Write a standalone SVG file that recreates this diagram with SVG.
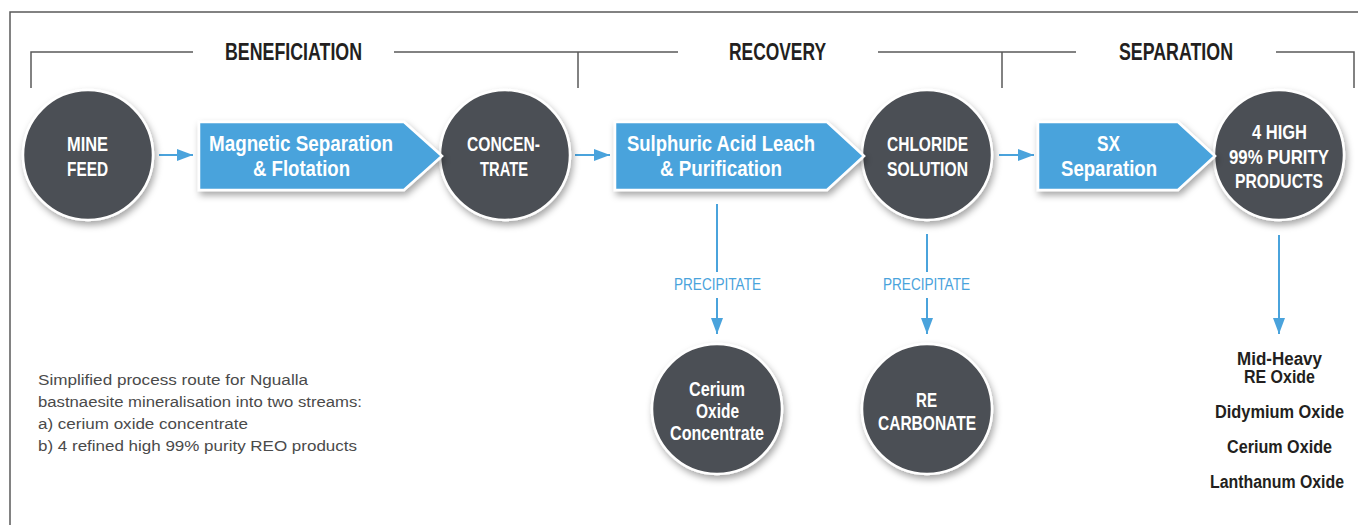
<svg xmlns="http://www.w3.org/2000/svg" width="1358" height="525" viewBox="0 0 1358 525">
  <defs>
    <filter id="shadow" x="-20%" y="-20%" width="150%" height="150%">
      <feDropShadow dx="2" dy="4" stdDeviation="3.5" flood-color="#000" flood-opacity="0.35"/>
    </filter>
    <marker id="arrow" markerUnits="userSpaceOnUse" markerWidth="16" markerHeight="12" refX="16" refY="6" orient="auto">
      <path d="M0,0 L16,6 L0,12 Z" fill="#4aa3dc"/>
    </marker>
    <style>
      .frame { fill: none; stroke: #5a5a5a; stroke-width: 1.5; }
      .node { fill: #4c4f54; stroke: #ffffff; stroke-width: 2.5; filter: url(#shadow); }
      .step { fill: #4aa3dc; stroke: #ffffff; stroke-width: 2.5; filter: url(#shadow); }
      .flow { fill: none; stroke: #4aa3dc; stroke-width: 2; }
      .head { font-family: "Liberation Sans", Arial, sans-serif; font-weight: bold; font-size: 23px; fill: #231f20; }
      .ctext { font-family: "Liberation Sans", Arial, sans-serif; font-weight: bold; font-size: 20px; fill: #ffffff; }
      .btext { font-family: "Liberation Sans", Arial, sans-serif; font-weight: bold; font-size: 22px; fill: #ffffff; }
      .plabel { font-family: "Liberation Sans", Arial, sans-serif; font-size: 17px; fill: #4aa3dc; }
      .prod { font-family: "Liberation Sans", Arial, sans-serif; font-weight: bold; font-size: 18px; fill: #231f20; }
      .note { font-family: "Liberation Sans", Arial, sans-serif; font-size: 15.5px; fill: #4a4a4a; }
    </style>
  </defs>

  <rect width="1358" height="525" fill="#ffffff"/>

  <!-- outer frame -->
  <path class="frame" d="M10,525 V12 H1358"/>

  <!-- stage brackets -->
  <g id="stages">
    <path class="frame" d="M31,88 V52 H193 M394,52 H678 M878,52 H1076 M1276,52 H1354 V88 M578,52 V88 M1002,52 V88"/>
    <text class="head" x="225" y="60" textLength="137" lengthAdjust="spacingAndGlyphs">BENEFICIATION</text>
    <text class="head" x="729" y="60" textLength="97" lengthAdjust="spacingAndGlyphs">RECOVERY</text>
    <text class="head" x="1119" y="60" textLength="114" lengthAdjust="spacingAndGlyphs">SEPARATION</text>
  </g>

  <!-- connectors -->
  <g id="connectors">
    <path class="flow" d="M159,155 H193" marker-end="url(#arrow)"/>
    <path class="flow" d="M575,155 H610" marker-end="url(#arrow)"/>
    <path class="flow" d="M999,155 H1034" marker-end="url(#arrow)"/>
    <path class="flow" d="M717,204 V272"/>
    <path class="flow" d="M717,298 V334" marker-end="url(#arrow)"/>
    <path class="flow" d="M927,234 V272"/>
    <path class="flow" d="M927,298 V334" marker-end="url(#arrow)"/>
    <path class="flow" d="M1279,235 V334" marker-end="url(#arrow)"/>
    <text class="plabel" x="674" y="290" textLength="87" lengthAdjust="spacingAndGlyphs">PRECIPITATE</text>
    <text class="plabel" x="883" y="290" textLength="87" lengthAdjust="spacingAndGlyphs">PRECIPITATE</text>
  </g>

  <!-- circular nodes -->
  <g id="mine-feed">
    <circle class="node" cx="88" cy="155" r="65"/>
    <text class="ctext" x="67" y="151" textLength="41" lengthAdjust="spacingAndGlyphs">MINE</text>
    <text class="ctext" x="67" y="176" textLength="41" lengthAdjust="spacingAndGlyphs">FEED</text>
  </g>
  <g id="concentrate">
    <circle class="node" cx="505" cy="155" r="65"/>
    <text class="ctext" x="467" y="151" textLength="73" lengthAdjust="spacingAndGlyphs">CONCEN-</text>
    <text class="ctext" x="480" y="176" textLength="48" lengthAdjust="spacingAndGlyphs">TRATE</text>
  </g>
  <g id="chloride-solution">
    <circle class="node" cx="927" cy="155" r="65"/>
    <text class="ctext" x="887" y="151" textLength="81" lengthAdjust="spacingAndGlyphs">CHLORIDE</text>
    <text class="ctext" x="887" y="176" textLength="81" lengthAdjust="spacingAndGlyphs">SOLUTION</text>
  </g>
  <g id="purity-products">
    <circle class="node" cx="1279" cy="155" r="65"/>
    <text class="ctext" x="1252" y="139" textLength="55" lengthAdjust="spacingAndGlyphs">4 HIGH</text>
    <text class="ctext" x="1229" y="164" textLength="100" lengthAdjust="spacingAndGlyphs">99% PURITY</text>
    <text class="ctext" x="1235" y="188" textLength="88" lengthAdjust="spacingAndGlyphs">PRODUCTS</text>
  </g>
  <g id="cerium-oxide-concentrate">
    <circle class="node" cx="717" cy="409" r="65"/>
    <text class="ctext" x="689" y="396" textLength="56" lengthAdjust="spacingAndGlyphs">Cerium</text>
    <text class="ctext" x="696" y="418" textLength="43" lengthAdjust="spacingAndGlyphs">Oxide</text>
    <text class="ctext" x="670" y="440" textLength="94" lengthAdjust="spacingAndGlyphs">Concentrate</text>
  </g>
  <g id="re-carbonate">
    <circle class="node" cx="927" cy="409" r="65"/>
    <text class="ctext" x="916" y="407" textLength="21" lengthAdjust="spacingAndGlyphs">RE</text>
    <text class="ctext" x="878" y="430" textLength="98" lengthAdjust="spacingAndGlyphs">CARBONATE</text>
  </g>

  <!-- process steps -->
  <g id="magnetic-separation">
    <path class="step" d="M199,122 H404 L442,156 L404,190 H199 Z"/>
    <text class="btext" x="209" y="151" textLength="184" lengthAdjust="spacingAndGlyphs">Magnetic Separation</text>
    <text class="btext" x="253" y="176" textLength="97" lengthAdjust="spacingAndGlyphs">&amp; Flotation</text>
  </g>
  <g id="acid-leach">
    <path class="step" d="M615,122 H827 L864,156 L827,190 H615 Z"/>
    <text class="btext" x="627" y="151" textLength="188" lengthAdjust="spacingAndGlyphs">Sulphuric Acid Leach</text>
    <text class="btext" x="660" y="176" textLength="122" lengthAdjust="spacingAndGlyphs">&amp; Purification</text>
  </g>
  <g id="sx-separation">
    <path class="step" d="M1038,122 H1178 L1215,156 L1178,190 H1038 Z"/>
    <text class="btext" x="1097" y="151" textLength="23" lengthAdjust="spacingAndGlyphs">SX</text>
    <text class="btext" x="1061" y="176" textLength="96" lengthAdjust="spacingAndGlyphs">Separation</text>
  </g>

  <!-- final products -->
  <g id="products">
    <text class="prod" x="1237" y="365" textLength="85" lengthAdjust="spacingAndGlyphs">Mid-Heavy</text>
    <text class="prod" x="1244" y="383" textLength="71" lengthAdjust="spacingAndGlyphs">RE Oxide</text>
    <text class="prod" x="1215" y="418" textLength="129" lengthAdjust="spacingAndGlyphs">Didymium Oxide</text>
    <text class="prod" x="1227" y="453" textLength="105" lengthAdjust="spacingAndGlyphs">Cerium Oxide</text>
    <text class="prod" x="1210" y="488" font-size="16.5" textLength="134" lengthAdjust="spacingAndGlyphs">Lanthanum Oxide</text>
  </g>

  <!-- caption -->
  <g id="caption">
    <text class="note" x="38" y="385" textLength="270" lengthAdjust="spacingAndGlyphs">Simplified process route for Ngualla</text>
    <text class="note" x="38" y="407" textLength="324" lengthAdjust="spacingAndGlyphs">bastnaesite mineralisation into two streams:</text>
    <text class="note" x="38" y="429" textLength="210" lengthAdjust="spacingAndGlyphs">a) cerium oxide concentrate</text>
    <text class="note" x="38" y="451" textLength="319" lengthAdjust="spacingAndGlyphs">b) 4 refined high 99% purity REO products</text>
  </g>
</svg>
